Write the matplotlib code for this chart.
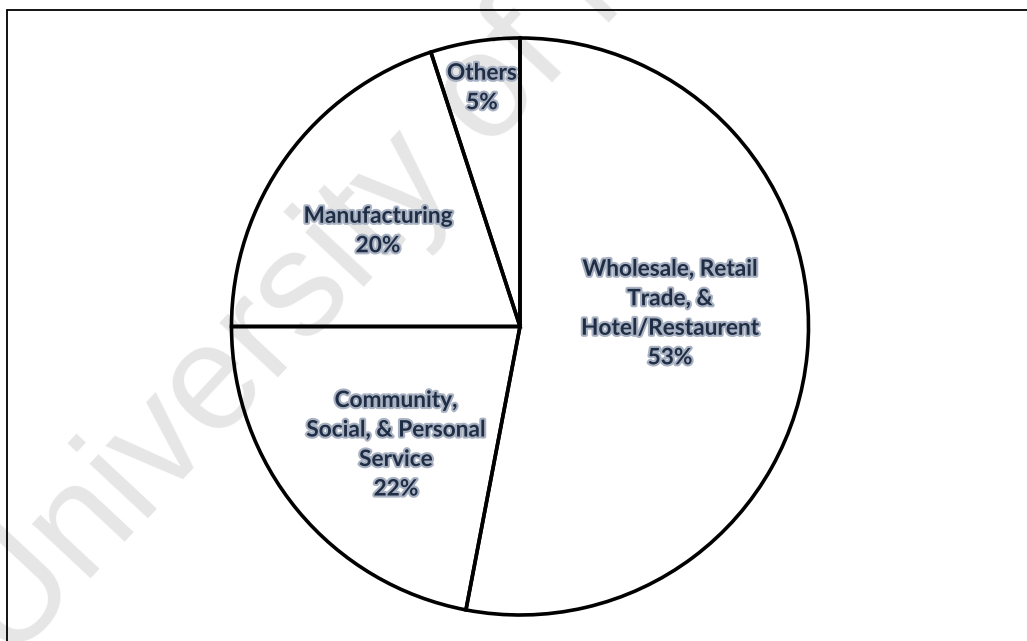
import matplotlib
matplotlib.use("Agg")
import matplotlib.pyplot as plt
import matplotlib.patheffects as pe
from matplotlib.patches import Rectangle

# sector shares (percent), clockwise from 12 o'clock
sectors = ["Wholesale, Retail\nTrade, &\nHotel/Restaurent",
           "Community,\nSocial, & Personal\nService",
           "Manufacturing",
           "Others"]
shares = [53, 22, 20, 5]

# label anchor points, in pie radius units
label_pos = [(0.52, 0.045), (-0.43, -0.41), (-0.492, 0.331), (-0.132, 0.827)]

W, H = 1027, 641
cx, cy, r = 520, 326.5, 288.5  # pie centre / radius in pixels

fig = plt.figure(figsize=(W / 100, H / 100), dpi=100)
fig.patch.set_facecolor("white")
ax = fig.add_axes([0, 0, 1, 1])

# faint watermark behind everything
ax.text((10.5 - cx) / r, (cy - 665) / r, "University of Malaya",
        rotation=47, rotation_mode="anchor", ha="left", va="baseline",
        fontsize=108, family="Liberation Sans", color="#e6e6e6", zorder=0)

wedges, _ = ax.pie(shares, startangle=90, counterclock=False, radius=1,
                   wedgeprops={"facecolor": "none", "edgecolor": "black",
                               "linewidth": 2.6})
for w in wedges:
    w.set_zorder(2)

for name, val, (x, y) in zip(sectors, shares, label_pos):
    ax.text(x, y, "{}\n{}%".format(name, val), ha="center", va="center",
            fontsize=16.3, fontweight="bold", family="Lato", color="#1f2d45",
            linespacing=1.5, zorder=3,
            path_effects=[pe.withStroke(linewidth=3, foreground="#a9b2c2")])

ax.set_aspect("auto")
ax.set_xlim(-cx / r, (W - cx) / r)
ax.set_ylim((cy - H) / r, cy / r)
ax.axis("off")

# outer frame (right and bottom edges run off the image)
fig.patches.append(Rectangle((7 / W, -0.05), 1.1, 1 - 10 / H + 0.05,
                             transform=fig.transFigure, fill=False,
                             edgecolor="black", linewidth=1.3, zorder=5))

fig.savefig("out.png", dpi=100, facecolor="white")
